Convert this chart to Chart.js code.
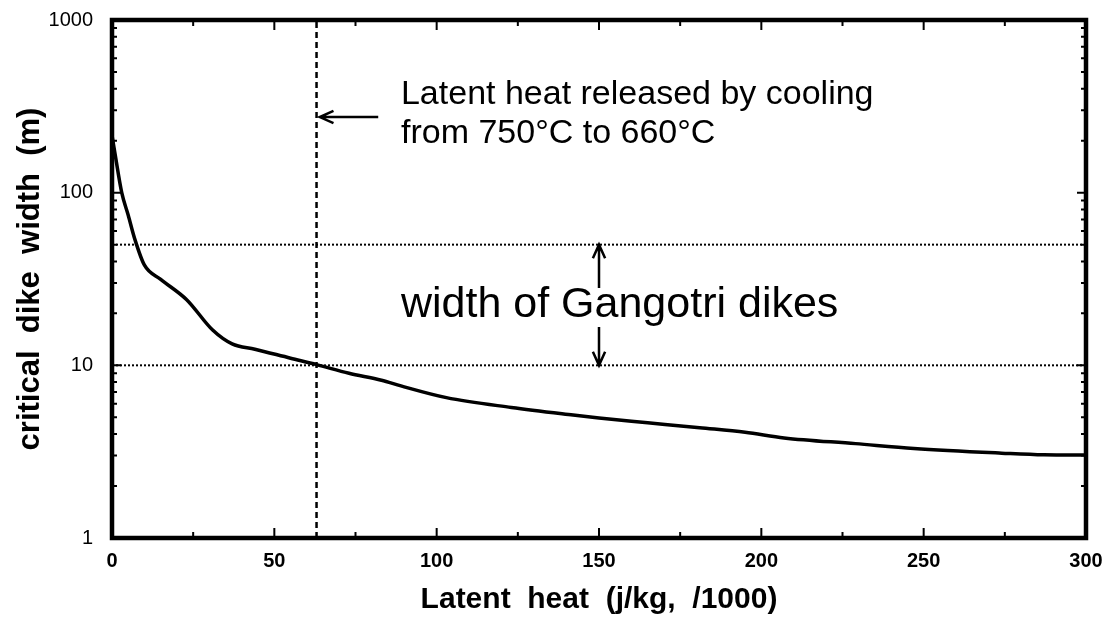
<!DOCTYPE html>
<html>
<head>
<meta charset="utf-8">
<script src="https://cdn.jsdelivr.net/npm/chart.js@4.4.1/dist/chart.umd.min.js"></script>
<style>
  body { margin: 0; background: #fff; }
  #wrap { width: 1109px; height: 618px; }
</style>
</head>
<body>
<div id="wrap"><canvas id="dikeChart" width="1109" height="618"></canvas></div>
<script>
// latent heat (j/kg /1000) vs critical dike width (m)
const latentHeat = [0, 1, 3, 5, 7, 10, 15, 23, 31, 37, 44, 55, 63, 73, 83, 89, 103, 123, 142, 150, 165, 181, 195, 207, 229, 247, 274, 287, 300];
const dikeWidth  = [215, 165, 100, 74, 54, 38, 31.5, 24, 16, 13.3, 12.4, 11, 10.1, 9.0, 8.2, 7.6, 6.5, 5.7, 5.15, 4.95, 4.65, 4.35, 4.1, 3.8, 3.52, 3.3, 3.1, 3.03, 3.02];

const xTicks = [0, 25, 50, 75, 100, 125, 150, 175, 200, 225, 250, 275, 300];
const xLabels = [0, 50, 100, 150, 200, 250, 300];
const yTicks = [1, 2, 3, 4, 5, 6, 7, 8, 9, 10, 20, 30, 40, 50, 60, 70, 80, 90, 100, 200, 300, 400, 500, 600, 700, 800, 900, 1000];
const yLabels = [1, 10, 100, 1000];

// Gangotri dike range and the 750->660 C latent heat marker
const gangotriRange = [10, 50];
const coolingHeat = 63;

// annotations in data coords
const noteLines = ['Latent heat released by cooling', 'from 750°C to 660°C', 'width of Gangotri dikes'];
const noteX = [89, 89, 89];
const noteY = [368, 221, 22.4];
const noteSize = [34, 34, 43];
const arrowFrom = [[82, 274], [150, 28], [150, 16.7]];
const arrowTo = [[64, 274], [150, 50], [150, 10]];

const font = '"Liberation Sans", Arial, Helvetica, sans-serif';

const frameAndNotes = {
    id: 'frameAndNotes',
    afterDraw(chart) {
        const ctx = chart.ctx;
        const xs = chart.scales.x;
        const ys = chart.scales.y;
        const a = chart.chartArea;
        ctx.save();
        ctx.strokeStyle = '#000';
        ctx.fillStyle = '#000';

        // inward ticks, all four sides
        ctx.lineWidth = 2;
        xTicks.forEach(v => {
            const px = xs.getPixelForValue(v);
            const len = v % 50 === 0 ? 10 : 6;
            ctx.beginPath();
            ctx.moveTo(px, a.bottom); ctx.lineTo(px, a.bottom - len);
            ctx.moveTo(px, a.top); ctx.lineTo(px, a.top + len);
            ctx.stroke();
        });
        yTicks.forEach(v => {
            const py = ys.getPixelForValue(v);
            const len = yLabels.includes(v) ? 9 : 5;
            ctx.beginPath();
            ctx.moveTo(a.left, py); ctx.lineTo(a.left + len, py);
            ctx.moveTo(a.right, py); ctx.lineTo(a.right - len, py);
            ctx.stroke();
        });

        ctx.lineWidth = 4.5;
        ctx.strokeRect(a.left, a.top, a.right - a.left, a.bottom - a.top);

        // arrows
        ctx.lineWidth = 2.5;
        arrowFrom.forEach((f, i) => {
            const x1 = xs.getPixelForValue(f[0]), y1 = ys.getPixelForValue(f[1]);
            const x2 = xs.getPixelForValue(arrowTo[i][0]), y2 = ys.getPixelForValue(arrowTo[i][1]);
            const ang = Math.atan2(y2 - y1, x2 - x1);
            ctx.beginPath();
            ctx.moveTo(x1, y1); ctx.lineTo(x2, y2);
            ctx.moveTo(x2 - 15 * Math.cos(ang - 0.42), y2 - 15 * Math.sin(ang - 0.42));
            ctx.lineTo(x2, y2);
            ctx.lineTo(x2 - 15 * Math.cos(ang + 0.42), y2 - 15 * Math.sin(ang + 0.42));
            ctx.stroke();
        });

        // text notes
        ctx.textAlign = 'left';
        ctx.textBaseline = 'middle';
        noteLines.forEach((t, i) => {
            ctx.font = noteSize[i] + 'px ' + font;
            ctx.fillText(t, xs.getPixelForValue(noteX[i]), ys.getPixelForValue(noteY[i]));
        });
        ctx.restore();
    }
};

const refLine = (pts, dash, w) => ({
    data: pts,
    borderColor: '#000',
    borderWidth: w,
    borderDash: dash,
    pointRadius: 0,
    fill: false,
    tension: 0
});

new Chart(document.getElementById('dikeChart').getContext('2d'), {
    type: 'line',
    data: {
        datasets: [
            {
                data: latentHeat.map((x, i) => ({ x: x, y: dikeWidth[i] })),
                borderColor: '#000',
                borderWidth: 3.5,
                pointRadius: 0,
                fill: false,
                tension: 0.3,
                cubicInterpolationMode: 'monotone'
            },
            refLine([{ x: 0, y: gangotriRange[1] }, { x: 300, y: gangotriRange[1] }], [2, 2], 2),
            refLine([{ x: 0, y: gangotriRange[0] }, { x: 300, y: gangotriRange[0] }], [2, 2], 2),
            refLine([{ x: coolingHeat, y: 1 }, { x: coolingHeat, y: 1000 }], [6, 4], 2.5)
        ]
    },
    options: {
        responsive: false,
        animation: false,
        layout: { padding: { left: 0, right: 23, top: 20, bottom: 0 } },
        plugins: {
            legend: { display: false },
            tooltip: { enabled: false }
        },
        scales: {
            x: {
                type: 'linear',
                min: 0,
                max: 300,
                afterBuildTicks: s => { s.ticks = xTicks.map(v => ({ value: v })); },
                afterFit: s => { s.height = 80; s.paddingLeft = 0; s.paddingRight = 0; },
                grid: { display: false, drawTicks: false },
                border: { display: false },
                ticks: {
                    autoSkip: false,
                    maxRotation: 0,
                    padding: 11,
                    color: '#000',
                    font: { family: font, size: 20, weight: 'bold' },
                    callback: v => xLabels.includes(v) ? String(v) : ''
                },
                title: {
                    display: true,
                    text: 'Latent  heat  (j/kg,  /1000)',
                    color: '#000',
                    font: { family: font, size: 30, weight: 'bold' },
                    padding: { top: 3, bottom: 0 }
                }
            },
            y: {
                type: 'logarithmic',
                min: 1,
                max: 1000,
                afterBuildTicks: s => { s.ticks = yTicks.map(v => ({ value: v })); },
                afterFit: s => { s.width = 112; s.paddingTop = 0; s.paddingBottom = 0; },
                grid: { display: false, drawTicks: false },
                border: { display: false },
                ticks: {
                    autoSkip: false,
                    padding: 19,
                    color: '#000',
                    font: { family: font, size: 20 },
                    callback: v => yLabels.includes(v) ? String(v) : ''
                },
                title: {
                    display: true,
                    text: 'critical  dike  width  (m)',
                    color: '#000',
                    font: { family: font, size: 31, weight: 'bold' },
                    padding: { top: 12, bottom: 0 }
                }
            }
        }
    },
    plugins: [frameAndNotes]
});
</script>
</body>
</html>
